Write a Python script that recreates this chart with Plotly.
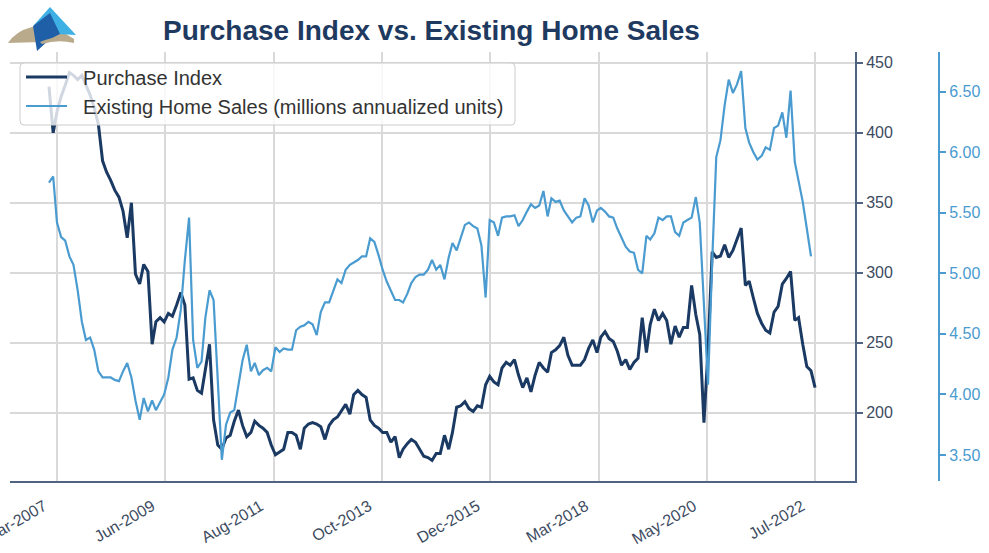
import base64
import pandas as pd
import plotly.graph_objects as go

# ---------------- data (monthly, Jan-2007 onwards) ----------------
purchase_index = [
    433, 400, 415, 426, 434, 443, 441, 438, 441, 434, 427, 418,
    406, 380, 372, 366, 359, 354, 344, 325, 350, 299, 292, 306,
    301, 249, 265, 268, 265, 271, 269, 277, 286, 277, 224, 225,
    216, 214, 231, 249, 195, 177, 174, 182, 184, 194, 202, 191,
    183, 186, 194, 191, 189, 186, 177, 170, 172, 174, 186, 186,
    184, 174, 189, 192, 193, 192, 190, 181, 191, 195, 197, 201,
    206, 199, 213, 216, 213, 211, 195, 191, 189, 186, 186, 179,
    183, 168, 174, 178, 181, 179, 174, 169, 168, 166, 171, 171,
    184, 174, 186, 204, 205, 208, 203, 201, 205, 204, 220, 226,
    222, 220, 232, 236, 234, 238, 227, 218, 225, 215, 227, 236,
    232, 229, 243, 245, 248, 254, 241, 234, 234, 234, 238, 246,
    252, 243, 254, 258, 253, 251, 244, 234, 238, 231, 236, 239,
    268, 243, 263, 274, 266, 271, 266, 249, 262, 254, 261, 261,
    291, 270, 256, 193, 245, 315, 311, 312, 320, 311, 316, 324,
    332, 291, 294, 282, 271, 264, 259, 257, 272, 276, 292, 296,
    301, 266, 268, 249, 233, 230, 218,
]

existing_home_sales = [
    5.75, 5.80, 5.42, 5.30, 5.27, 5.14, 5.07, 4.86, 4.60, 4.45, 4.47, 4.37,
    4.19, 4.14, 4.14, 4.14, 4.12, 4.11, 4.19, 4.26, 4.14, 3.95, 3.79, 3.97,
    3.86, 3.95, 3.87, 3.93, 4.00, 4.14, 4.37, 4.47, 4.70, 5.11, 5.46, 4.45,
    4.22, 4.27, 4.63, 4.86, 4.78, 4.12, 3.46, 3.75, 3.85, 3.87, 4.08, 4.28,
    4.41, 4.19, 4.26, 4.16, 4.20, 4.22, 4.19, 4.39, 4.35, 4.38, 4.37, 4.37,
    4.53, 4.56, 4.57, 4.60, 4.58, 4.49, 4.68, 4.76, 4.76, 4.86, 4.95, 4.92,
    5.03, 5.07, 5.09, 5.11, 5.14, 5.14, 5.29, 5.26, 5.15, 5.03, 4.93, 4.85,
    4.78, 4.78, 4.76, 4.83, 4.92, 4.97, 4.99, 4.99, 5.03, 5.11, 5.03, 5.07,
    4.95, 5.13, 5.25, 5.19, 5.30, 5.40, 5.42, 5.39, 5.37, 5.23, 4.80, 5.44,
    5.42, 5.31, 5.46, 5.47, 5.47, 5.48, 5.39, 5.44, 5.51, 5.57, 5.54, 5.56,
    5.68, 5.47, 5.62, 5.59, 5.60, 5.52, 5.47, 5.42, 5.46, 5.47, 5.62, 5.56,
    5.42, 5.52, 5.54, 5.51, 5.47, 5.46, 5.37, 5.29, 5.22, 5.18, 5.17, 5.03,
    5.00, 5.31, 5.28, 5.33, 5.46, 5.44, 5.47, 5.47, 5.34, 5.31, 5.42, 5.44,
    5.46, 5.63, 5.42, 4.74, 4.08, 5.10, 5.96, 6.10, 6.39, 6.60, 6.49, 6.56,
    6.67, 6.20, 6.08, 6.00, 5.94, 5.97, 6.04, 6.02, 6.20, 6.22, 6.33, 6.12,
    6.51, 5.92, 5.77, 5.59, 5.37, 5.14,
]

dates_pi = pd.date_range("2007-01-01", periods=len(purchase_index), freq="MS")
dates_ehs = pd.date_range("2007-01-01", periods=len(existing_home_sales), freq="MS")

tick_dates = ["2007-03-01", "2009-05-09", "2011-07-18", "2013-09-26",
              "2015-12-04", "2018-02-13", "2020-04-21", "2022-06-30"]
tick_labels = ["Mar-2007", "Jun-2009", "Aug-2011", "Oct-2013",
               "Dec-2015", "Mar-2018", "May-2020", "Jul-2022"]

pi_ticks = [200, 250, 300, 350, 400, 450]
ehs_ticks = [3.5, 4.0, 4.5, 5.0, 5.5, 6.0, 6.5]

series_names = ["Purchase Index", "Existing Home Sales (millions annualized units)"]

# ---------------- styling ----------------
DARK = "#1b3a63"
LIGHT = "#4a9bd0"
AXIS = "#4f6383"
TXT = "#3d4b5f"
GRID = "#d9d9d9"
FONT = "Liberation Sans, Arial, sans-serif"
NB = "\u00a0\u00a0"

PW, PH = 929.0, 429.0  # paper size in px (l=10, r=50, t=52, b=72)


def px_x(p):
    return (p - 10) / PW


def px_y(p):
    return (481 - p) / PH


fig = go.Figure()
fig.add_trace(go.Scatter(x=dates_pi, y=purchase_index, mode="lines",
                         name=NB + series_names[0],
                         line=dict(color=DARK, width=3), yaxis="y"))
fig.add_trace(go.Scatter(x=dates_ehs, y=existing_home_sales, mode="lines",
                         name=NB + series_names[1],
                         line=dict(color=LIGHT, width=2.2), yaxis="y2"))

# legend frame (semi-transparent, rounded)
x0, x1, y0, y1 = px_x(20), px_x(515), px_y(125), px_y(63)
rx, ry = 4 / PW, 4 / PH
frame = (f"M {x0+rx},{y1} L {x1-rx},{y1} Q {x1},{y1} {x1},{y1-ry} "
         f"L {x1},{y0+ry} Q {x1},{y0} {x1-rx},{y0} L {x0+rx},{y0} "
         f"Q {x0},{y0} {x0},{y0+ry} L {x0},{y1-ry} Q {x0},{y1} {x0+rx},{y1} Z")
fig.add_shape(type="path", path=frame, xref="paper", yref="paper",
              fillcolor="rgba(255,255,255,0.8)", line=dict(color="#cccccc", width=1),
              layer="above")

# logo (decorative)
svg = """<svg xmlns='http://www.w3.org/2000/svg' width='72' height='48' viewBox='0 0 72 48'>
<path d='M2 38 Q10 26 26 22 Q46 18 68 34 L68 37 Q50 31 34 37 L2 38 Z' fill='#b9aa8c'/>
<path d='M44 2 L70 30 L52 29 L28 20 Z' fill='#3fb0e4'/>
<path d='M27 21 L44 8 L54 29 L44 34 L31 46 Z' fill='#1f5fa8'/>
<path d='M34 37 Q50 30 68 34 L68 38 Q52 34 36 39 Z' fill='#b9aa8c'/>
</svg>"""
logo_src = "data:image/svg+xml;base64," + base64.b64encode(svg.encode()).decode()
fig.add_layout_image(dict(source=logo_src, xref="paper", yref="paper",
                          x=px_x(6), y=px_y(5), sizex=72 / PW, sizey=48 / PH,
                          xanchor="left", yanchor="top", sizing="stretch",
                          layer="above"))

fig.update_layout(
    width=989, height=553,
    margin=dict(l=10, r=50, t=52, b=72, autoexpand=False),
    paper_bgcolor="white", plot_bgcolor="white",
    font=dict(family=FONT, color=TXT),
    title=dict(text="<b>Purchase Index vs. Existing Home Sales</b>",
               font=dict(family=FONT, size=28, color="#1f3a60"),
               xref="paper", x=px_x(431.5), xanchor="center",
               yref="container", y=1 - 30 / 553, yanchor="middle"),
    showlegend=True,
    legend=dict(x=px_x(21), y=px_y(57.5), xanchor="left", yanchor="top",
                bgcolor="rgba(0,0,0,0)", borderwidth=0,
                itemwidth=41,
                font=dict(family=FONT, size=20, color="#333333")),
    xaxis=dict(domain=[0, 845 / PW], type="date",
               range=["2006-03-19", "2023-04-22"],
               tickvals=tick_dates, ticktext=tick_labels, tickangle=-30,
               ticklabeloverflow="allow", automargin=False,
               ticklabelshift=-13, ticklabelstandoff=8,
               tickfont=dict(size=16, color=TXT),
               showgrid=True, gridcolor=GRID, gridwidth=1.5,
               showline=True, linecolor=AXIS, linewidth=2,
               ticks="", zeroline=False),
    yaxis=dict(side="right", anchor="x", range=[151.3, 457.7], automargin=False,
               tickvals=pi_ticks, tickfont=dict(size=16, color=TXT),
               showgrid=True, gridcolor=GRID, gridwidth=1.5,
               showline=True, linecolor=AXIS, linewidth=2,
               ticks="outside", ticklen=6, tickcolor=AXIS, tickwidth=1.5,
               zeroline=False),
    yaxis2=dict(overlaying="y", side="right", anchor="free", position=1.0,
                automargin=False,
                range=[3.285, 6.828], tickvals=ehs_ticks, tickformat=".2f",
                tickfont=dict(size=16, color=LIGHT),
                showgrid=False, showline=True, linecolor=LIGHT, linewidth=2,
                ticks="outside", ticklen=6, tickcolor=LIGHT, tickwidth=1.5,
                zeroline=False),
)

fig.write_html("out.html", config={"displayModeBar": False},
               post_script="document.body.style.margin='0';document.body.style.overflow='hidden';")
